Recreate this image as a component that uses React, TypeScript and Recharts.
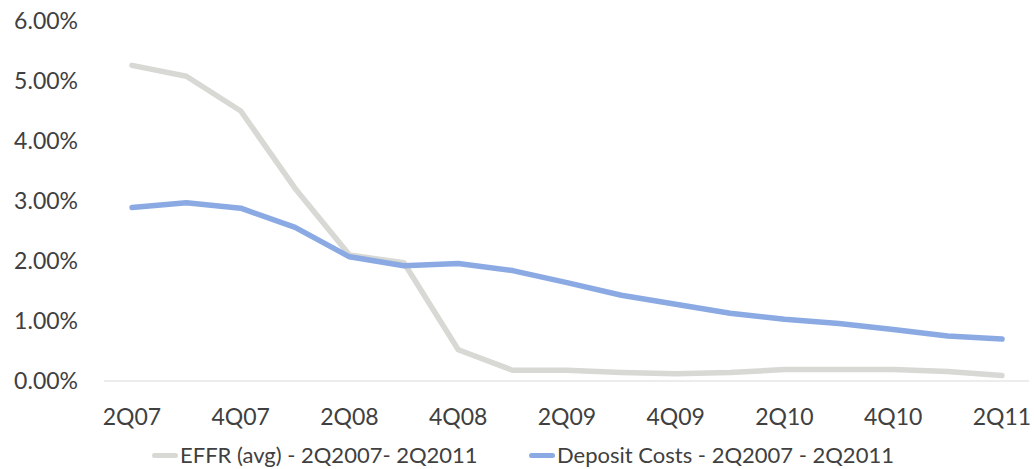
import React from 'react';
import { LineChart, Line, XAxis, YAxis, Legend } from 'recharts';

const quarters = [
  '2Q07', '3Q07', '4Q07', '1Q08', '2Q08', '3Q08', '4Q08', '1Q09', '2Q09',
  '3Q09', '4Q09', '1Q10', '2Q10', '3Q10', '4Q10', '1Q11', '2Q11',
];

const effr = [
  5.26, 5.08, 4.5, 3.21, 2.1, 1.97, 0.52, 0.18, 0.18,
  0.14, 0.12, 0.14, 0.19, 0.19, 0.19, 0.16, 0.09,
];

const depositCosts = [
  2.89, 2.97, 2.88, 2.56, 2.07, 1.92, 1.96, 1.84, 1.64,
  1.43, 1.28, 1.13, 1.03, 0.96, 0.86, 0.75, 0.7,
];

const yTicks = [0, 1, 2, 3, 4, 5, 6];

const EFFR_NAME = 'EFFR (avg) - 2Q2007- 2Q2011';
const DEPOSIT_NAME = 'Deposit Costs - 2Q2007 - 2Q2011';

const data = quarters.map((q, i) => ({
  quarter: q,
  effr: effr[i],
  deposit: depositCosts[i],
}));

const TEXT = '#404040';
const GRAY = '#D8D8D4';
const BLUE = '#8BAAE3';

// legend item x positions (layout only)
const legendLeft: Record<string, number> = { effr: 152, deposit: 529 };

const renderLegend = (props: any) => {
  const payload = props.payload || [];
  return (
    <div style={{ position: 'relative', height: 25 }}>
      {payload.map((entry: any, i: number) => (
        <div
          key={`leg-${i}`}
          style={{
            position: 'absolute',
            left: legendLeft[entry.dataKey] ?? 152,
            top: 0,
            height: 22,
            lineHeight: '22px',
            display: 'flex',
            alignItems: 'center',
            whiteSpace: 'nowrap',
            fontSize: 22,
            color: TEXT,
          }}
        >
          <span
            style={{
              display: 'inline-block',
              width: 26,
              height: 5,
              borderRadius: 3,
              background: entry.color,
              marginRight: 2,
            }}
          />
          {entry.value}
        </div>
      ))}
    </div>
  );
};

export default function App() {
  return (
    <div
      style={{
        position: 'fixed',
        left: 0,
        top: 0,
        width: 1034,
        height: 469,
        overflow: 'hidden',
        background: '#fff',
        fontFamily: 'Lato, sans-serif',
      }}
    >
      <LineChart
        width={1034}
        height={469}
        data={data}
        margin={{ top: 21, right: 5, left: 0, bottom: 0 }}
      >
        <XAxis
          dataKey="quarter"
          interval={1}
          height={63}
          padding={{ left: 28, right: 27 }}
          tickLine={false}
          tickSize={0}
          tickMargin={28}
          axisLine={{ stroke: '#D9D9D9', strokeWidth: 1 }}
          tick={{ fill: TEXT, fontSize: 23 }}
        />
        <YAxis
          domain={[0, 6]}
          ticks={yTicks}
          width={104}
          axisLine={false}
          tickLine={false}
          tickSize={0}
          tickMargin={26}
          tick={{ fill: TEXT, fontSize: 23 }}
          tickFormatter={(v: number) => `${v.toFixed(2)}%`}
        />
        <Legend
          verticalAlign="bottom"
          height={25}
          content={renderLegend}
          wrapperStyle={{ left: 0, width: 1034 }}
        />
        <Line
          type="linear"
          dataKey="effr"
          name={EFFR_NAME}
          stroke={GRAY}
          strokeWidth={5.5}
          strokeLinecap="round"
          strokeLinejoin="round"
          dot={false}
          activeDot={false}
          isAnimationActive={false}
        />
        <Line
          type="linear"
          dataKey="deposit"
          name={DEPOSIT_NAME}
          stroke={BLUE}
          strokeWidth={5.5}
          strokeLinecap="round"
          strokeLinejoin="round"
          dot={false}
          activeDot={false}
          isAnimationActive={false}
        />
      </LineChart>
    </div>
  );
}
